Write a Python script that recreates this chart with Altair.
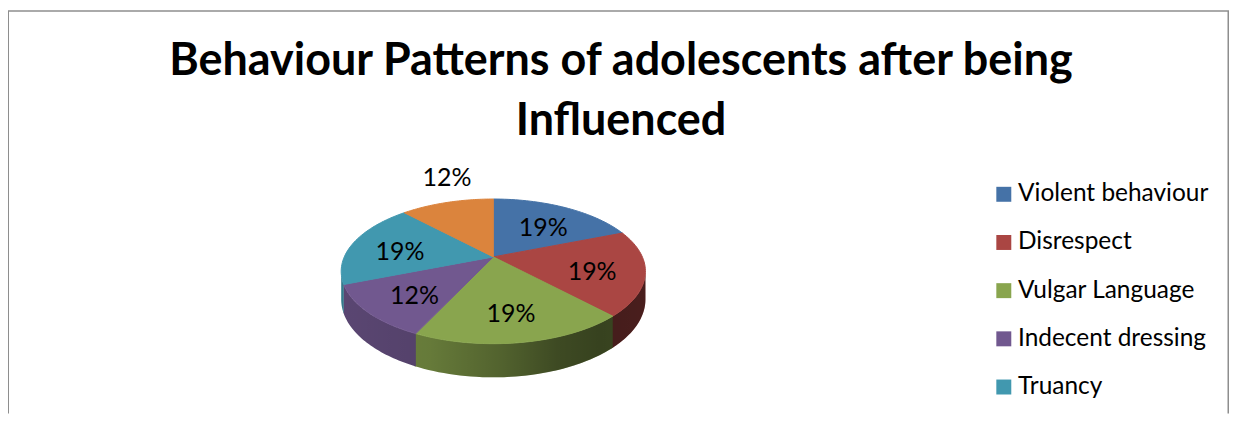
import math
import json
import altair as alt
import pandas as pd

# ---- data ----
CATEGORIES = ["Violent behaviour", "Disrespect", "Vulgar Language",
              "Indecent dressing", "Truancy", "Others"]
PERCENTS = [19, 19, 19, 12, 19, 12]
TITLE_LINES = ["Behaviour Patterns of adolescents after being", "Influenced"]
LEGEND_SHOWN = CATEGORIES[:5]   # the sixth entry falls below the visible frame

# ---- styles ----
COLORS = ["#4572A7", "#AA4643", "#89A54E", "#71588F", "#4198AF", "#DB843D"]
WALL_COLORS = ["#375b86", "#883836", "#6e843e", "#5a4672", "#347a8c", "#af6a31"]
FONT = "Lato"

# ---- layout (chart-local pixels) ----
W, H = 1224, 406
CX, CY = 486.5, 249.0          # projected pie centre
SX, SY, K, DEPTH = 149.4, 69.6, 0.2, 27.0   # perspective pie parameters
N = 40
M = 160
EPS = 0.012
TL = math.acos(-K)
TR = 2 * math.pi - TL

df = pd.DataFrame({"category": CATEGORIES, "value": PERCENTS,
                   "ord": list(range(len(CATEGORIES)))})

xs = alt.Scale(domain=[0, W], nice=False, zero=False)
ys = alt.Scale(domain=[0, H], nice=False, zero=False, reverse=True)
fill_scale = alt.Scale(domain=CATEGORIES, range=COLORS)

COLOR_EXPR = json.dumps(COLORS) + "[datum.ord]"
WALL_EXPR = json.dumps(WALL_COLORS) + "[datum.ord]"


def angles(ch):
    return (ch.transform_window(cum="sum(value)", sort=[alt.SortField("ord")], frame=[None, 0])
              .transform_joinaggregate(total="sum(value)")
              .transform_calculate(a0="2*PI*(datum.cum-datum.value)/datum.total",
                                   a1="2*PI*datum.cum/datum.total"))


W_EXPR = f"(1+{K}*cos(datum.t))"

# side walls
walls = (angles(alt.Chart(df))
         .transform_calculate(t0=f"max(datum.a0, {TL})", t1=f"min(datum.a1+{EPS}, {TR})",
                              wallcol=WALL_EXPR)
         .transform_filter("datum.t1 > datum.t0")
         .transform_calculate(seq=f"sequence(0, {N + 1})")
         .transform_flatten(["seq"], as_=["i"])
         .transform_calculate(t=f"datum.t0 + (datum.t1-datum.t0)*datum.i/{N}")
         .transform_calculate(px=f"{CX} + {SX}*sin(datum.t)/{W_EXPR}",
                              ytop=f"{CY} - {SY}*cos(datum.t)/{W_EXPR}",
                              ybot=f"{CY} - {SY}*cos(datum.t)/{W_EXPR} + {DEPTH}/{W_EXPR}")
         .mark_area()
         .encode(x=alt.X("px:Q", scale=xs, axis=None),
                 y=alt.Y("ytop:Q", scale=ys, axis=None),
                 y2="ybot:Q",
                 color=alt.Color("wallcol:N", scale=None),
                 detail="category:N"))

shade = alt.LinearGradient(
    gradient="linear", x1=0, x2=1, y1=0, y2=0,
    stops=[alt.GradientStop(color="rgba(0,0,0,0)", offset=0),
           alt.GradientStop(color="rgba(0,0,0,0.075)", offset=0.29),
           alt.GradientStop(color="rgba(0,0,0,0.25)", offset=0.52),
           alt.GradientStop(color="rgba(0,0,0,0.44)", offset=0.71),
           alt.GradientStop(color="rgba(0,0,0,0.5)", offset=0.85),
           alt.GradientStop(color="rgba(0,0,0,0.46)", offset=1)])

overlay = (alt.Chart(alt.sequence(0, M + 1, as_="i"))
           .transform_calculate(t=f"{TL} + ({TR}-{TL})*datum.i/{M}")
           .transform_calculate(px=f"{CX} + {SX}*sin(datum.t)/{W_EXPR}",
                                ytop=f"{CY} - {SY}*cos(datum.t)/{W_EXPR}",
                                ybot=f"{CY} - {SY}*cos(datum.t)/{W_EXPR} + {DEPTH}/{W_EXPR}")
           .mark_area(fill=shade)
           .encode(x=alt.X("px:Q", scale=xs, axis=None),
                   y=alt.Y("ytop:Q", scale=ys, axis=None),
                   y2="ybot:Q"))

# top faces (legend comes from their fill scale)
face = (angles(alt.Chart(df))
        .transform_calculate(seq=f"sequence(-1, {N + 2})", facecol=COLOR_EXPR)
        .transform_flatten(["seq"], as_=["i"])
        .transform_calculate(t=f"datum.a0 + (datum.a1-datum.a0)*clamp(datum.i, 0, {N})/{N}",
                             edge=f"datum.i >= 0 && datum.i <= {N}")
        .transform_calculate(px=f"datum.edge ? {CX} + {SX}*sin(datum.t)/{W_EXPR} : {CX}",
                             py=f"datum.edge ? {CY} - {SY}*cos(datum.t)/{W_EXPR} : {CY}")
        .mark_line(filled=True, strokeWidth=1, strokeJoin="round")
        .encode(x=alt.X("px:Q", scale=xs, axis=None),
                y=alt.Y("py:Q", scale=ys, axis=None),
                order="i:Q",
                fill=alt.Fill("category:N", scale=fill_scale,
                              legend=alt.Legend(orient="none", legendX=986, legendY=174,
                                                values=LEGEND_SHOWN,
                                                title=None, symbolType="square",
                                                symbolSize=225, symbolStrokeWidth=0,
                                                symbolOpacity=1,
                                                labelFont=FONT, labelFontSize=24.5,
                                                labelColor="#000000", labelOffset=2,
                                                rowPadding=23.3, labelLimit=400)),
                stroke=alt.Stroke("facecol:N", scale=None)))

# data labels
labels = (angles(alt.Chart(df))
          .transform_calculate(mid="(datum.a0+datum.a1)/2",
                               out="datum.category == 'Others'")
          .transform_calculate(f="datum.out ? 1.0 : 0.66")
          .transform_calculate(lx=f"{CX} + {SX}*datum.f*sin(datum.mid)/(1+{K}*datum.f*cos(datum.mid))",
                               ly=f"{CY} - {SY}*datum.f*cos(datum.mid)/(1+{K}*datum.f*cos(datum.mid)) + (datum.out ? -24 : 5)",
                               pct="format(datum.value/datum.total, '.0%')")
          .mark_text(font=FONT, fontSize=25, color="#000000", align="center", baseline="middle")
          .encode(x=alt.X("lx:Q", scale=xs, axis=None),
                  y=alt.Y("ly:Q", scale=ys, axis=None),
                  text="pct:N"))

one = pd.DataFrame({"k": [0]})
FRAME = "#8e8e8e"
top_rule = alt.Chart(one).mark_rule(color=FRAME, strokeWidth=1.5).encode(
    x=alt.value(0), x2=alt.value(W), y=alt.value(2.5))
left_rule = alt.Chart(one).mark_rule(color=FRAME, strokeWidth=2).encode(
    x=alt.value(0), y=alt.value(2.5), y2=alt.value(H))
right_rule = alt.Chart(one).mark_rule(color=FRAME, strokeWidth=1.5).encode(
    x=alt.value(W - 0.75), y=alt.value(2.5), y2=alt.value(H))

title_layers = []
for line, yy in zip(TITLE_LINES, [67, 127]):
    title_layers.append(
        alt.Chart(pd.DataFrame({"t": [line]}))
        .mark_text(font=FONT, fontSize=45, fontWeight="bold", color="#000000",
                   align="center", baseline="alphabetic")
        .encode(x=alt.value(614.5), y=alt.value(yy), text="t:N"))

chart = (alt.layer(walls, overlay, face, labels,
                   top_rule, left_rule, right_rule, *title_layers)
         .properties(width=W, height=H, padding=0, background="#ffffff",
                     autosize=alt.AutoSizeParams(type="none"))
         .configure_view(stroke=None))

chart.save("out.html", embed_options={"renderer": "svg", "actions": False})
